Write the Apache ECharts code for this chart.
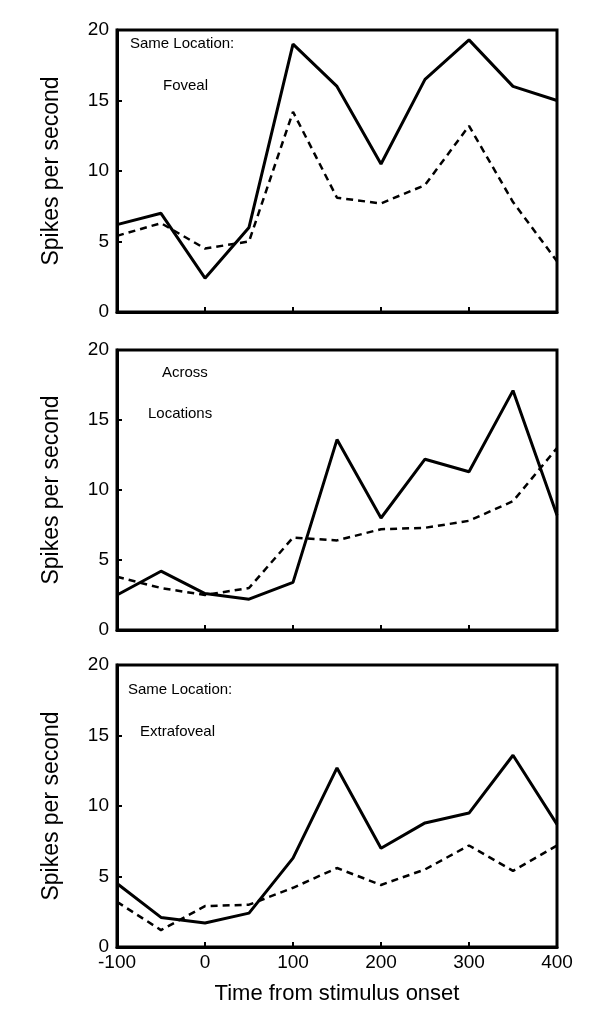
<!DOCTYPE html>
<html><head><meta charset="utf-8">
<script src="https://cdn.jsdelivr.net/npm/echarts@6/dist/echarts.min.js"></script>
<style>html,body{margin:0;padding:0;background:#fff}#c{width:589px;height:1012px}</style>
</head><body><div id="c"></div>
<script>
const times = [-100,-50,0,50,100,150,200,250,300,350,400];
const fovealSolid = [6.2,7,2.4,6,19,16,10.5,16.5,19.3,16,15];
const fovealDashed = [5.4,6.3,4.5,5,14.2,8.1,7.7,9,13.2,7.8,3.6];
const acrossSolid = [2.5,4.2,2.6,2.2,3.4,13.6,8,12.2,11.3,17.1,8.2];
const acrossDashed = [3.8,3,2.5,3,6.6,6.4,7.2,7.3,7.8,9.2,13];
const extraSolid = [4.5,2.1,1.7,2.4,6.3,12.7,7,8.8,9.5,13.6,8.7];
const extraDashed = [3.2,1.2,2.9,3,4.2,5.6,4.4,5.5,7.2,5.4,7.2];
const yTicks = [0,5,10,15,20];
const xTicks = [-100,0,100,200,300,400];

const font = 'Liberation Sans';
const grids = [{top:30,height:282},{top:350,height:280},{top:665,height:282}].map(g=>({left:117,width:440,top:g.top,height:g.height,show:true,borderColor:'#000',borderWidth:3,backgroundColor:'transparent'}));
const sets = [[fovealSolid,fovealDashed],[acrossSolid,acrossDashed],[extraSolid,extraDashed]];
const xAxis = grids.map((g,i)=>({type:'value',gridIndex:i,min:-100,max:400,interval:100,
  axisLine:{show:true,onZero:false,lineStyle:{color:'#000',width:3}},
  axisTick:{show:true,inside:true,length:5,lineStyle:{color:'#000',width:2}},
  axisLabel:{show:i===2,color:'#000',fontSize:19,fontFamily:font,margin:6},
  splitLine:{show:false},
  name:i===2?'Time from stimulus onset':'',nameLocation:'middle',nameGap:36,
  nameTextStyle:{color:'#000',fontSize:22,fontFamily:font}}));
const yAxis = grids.map((g,i)=>({type:'value',gridIndex:i,min:0,max:20,interval:5,
  axisLine:{show:true,onZero:false,lineStyle:{color:'#000',width:3}},
  axisTick:{show:true,inside:true,length:5,lineStyle:{color:'#000',width:2}},
  axisLabel:{color:'#000',fontSize:19,fontFamily:font,margin:8},
  splitLine:{show:false},
  name:'Spikes per second',nameLocation:'middle',nameGap:54,
  nameTextStyle:{color:'#000',fontSize:23,fontFamily:font}}));
const series = [];
sets.forEach((s,i)=>{
  s.forEach((d,k)=>series.push({type:'line',xAxisIndex:i,yAxisIndex:i,symbol:'none',
    data:times.map((t,j)=>[t,d[j]]),
    lineStyle:{color:'#000',width:k?2.5:3,type:k?[7,5]:'solid'}}));
});
const txt=(x,y,t)=>({type:'text',left:x,top:y,style:{text:t,fill:'#000',font:'15px '+font}});
const chart = echarts.init(document.getElementById('c'));
chart.setOption({animation:false,grid:grids,xAxis,yAxis,series,
  graphic:[txt(130,36,'Same Location:'),txt(163,78,'Foveal'),txt(162,365,'Across'),txt(148,406,'Locations'),txt(128,682,'Same Location:'),txt(140,724,'Extrafoveal')]});
</script></body></html>
